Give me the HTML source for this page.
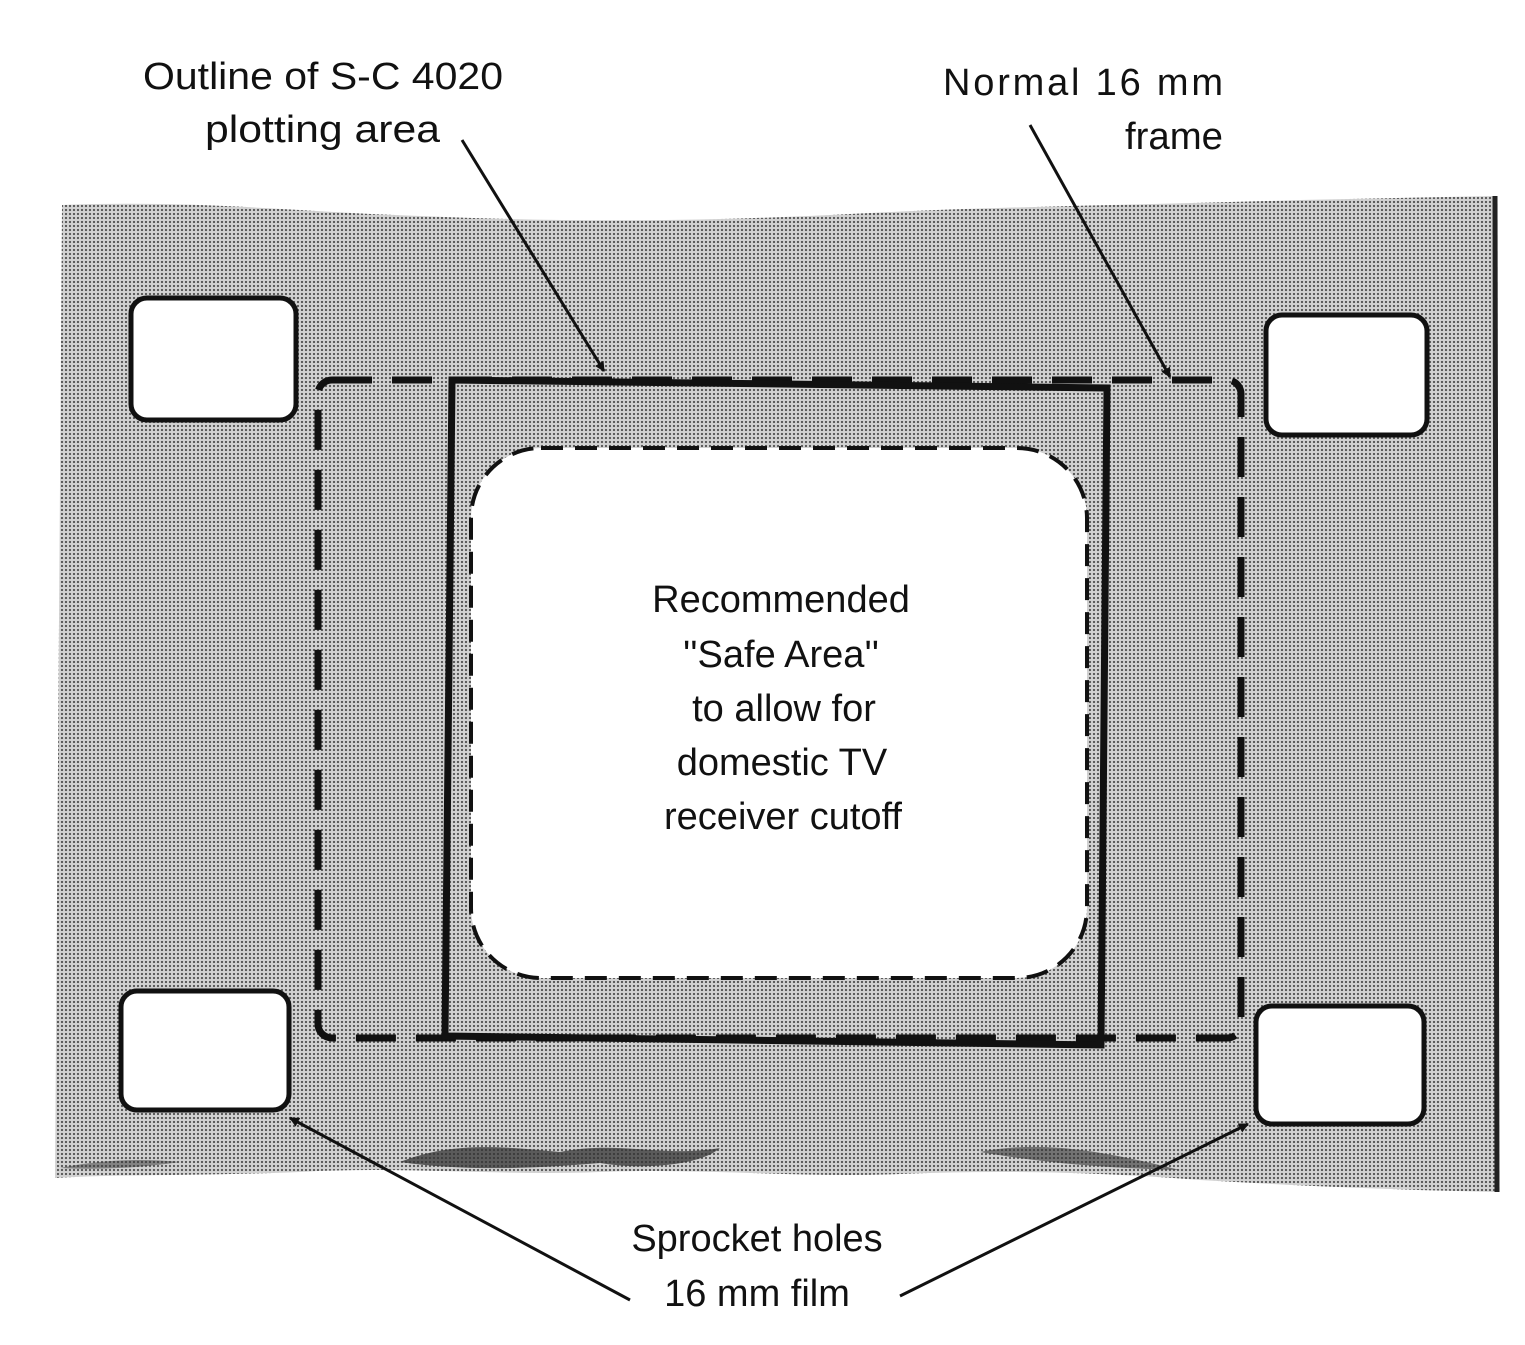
<!DOCTYPE html>
<html><head><meta charset="utf-8"><style>
html,body{margin:0;padding:0;background:#fff;}
svg{display:block;}
text{font-family:"Liberation Sans Narrow","Liberation Sans",sans-serif;font-size:38px;fill:#111;}
</style></head><body>
<svg width="1525" height="1345" viewBox="0 0 1525 1345" xmlns="http://www.w3.org/2000/svg">
<defs>
<pattern id="ht" width="4" height="4" patternUnits="userSpaceOnUse">
<rect width="4" height="4" fill="#d2d2d2"/>
<circle cx="2" cy="2" r="1.15" fill="#555"/>
</pattern>
<marker id="ah" markerWidth="10" markerHeight="10" refX="9" refY="5" orient="auto" markerUnits="userSpaceOnUse" viewBox="0 0 10 10">
<path d="M0,0 L10,5 L0,10 z" fill="#111"/>
</marker>
</defs>
<!-- film -->
<path d="M62,205 C200,200 300,212 420,216 C560,222 700,222 850,214 C1000,206 1150,205 1300,200 L1495,196 L1497,1192 C1400,1190 1300,1186 1200,1180 C1100,1172 1000,1170 900,1174 C800,1178 700,1168 600,1172 C500,1176 400,1166 300,1172 C200,1176 120,1174 55,1178 Z" fill="url(#ht)"/>
<path d="M60,1168 C100,1160 140,1158 180,1162 C140,1168 100,1170 60,1168Z" fill="#333" opacity="0.5"/>
<path d="M400,1162 C450,1142 500,1146 560,1152 C620,1140 660,1158 720,1148 C700,1166 640,1170 600,1163 C540,1168 470,1172 400,1162Z" fill="#333" opacity="0.75"/>
<path d="M980,1152 C1040,1140 1100,1150 1180,1170 C1110,1168 1050,1164 980,1152Z" fill="#333" opacity="0.6"/>
<line x1="1495" y1="196" x2="1497" y2="1192" stroke="#222" stroke-width="5"/>
<!-- sprocket holes -->
<g fill="#fff" stroke="#111" stroke-width="5">
<rect x="131" y="298" width="165" height="122" rx="16"/>
<rect x="1266" y="315" width="161" height="120" rx="16"/>
<rect x="121" y="991" width="168" height="119" rx="16"/>
<rect x="1256" y="1006" width="168" height="118" rx="16"/>
</g>
<!-- normal frame -->
<rect x="318" y="380" width="923" height="658" rx="14" fill="none" stroke="#111" stroke-width="7" stroke-dasharray="40,20"/>
<!-- plotting area -->
<polygon points="452,380 1107,388 1101,1045 445,1036" fill="none" stroke="#111" stroke-width="7"/>
<!-- safe area -->
<rect x="471" y="448" width="616" height="530" rx="70" fill="#fff" stroke="#111" stroke-width="4" stroke-dasharray="22,12"/>
<!-- arrows -->
<g stroke="#111" stroke-width="3" fill="none" marker-end="url(#ah)">
<line x1="462" y1="140" x2="604" y2="371"/>
<line x1="1030" y1="125" x2="1170" y2="377"/>
<line x1="630" y1="1300" x2="290" y2="1118"/>
<line x1="900" y1="1296" x2="1248" y2="1124"/>
</g>
<!-- labels -->
<text x="143" y="89" textLength="360" lengthAdjust="spacingAndGlyphs">Outline of S-C 4020</text>
<text x="205" y="142" textLength="235" lengthAdjust="spacingAndGlyphs">plotting area</text>
<text x="943" y="95" textLength="280" lengthAdjust="spacing">Normal   16 mm</text>
<text x="1125" y="149" textLength="98" lengthAdjust="spacingAndGlyphs">frame</text>
<g text-anchor="middle">
<text x="781" y="612">Recommended</text>
<text x="781" y="667">''Safe Area''</text>
<text x="784" y="721">to allow for</text>
<text x="782" y="775">domestic TV</text>
<text x="783" y="829">receiver cutoff</text>
<text x="757" y="1251">Sprocket holes</text>
<text x="757" y="1306">16 mm film</text>
</g>
</svg>
</body></html>
